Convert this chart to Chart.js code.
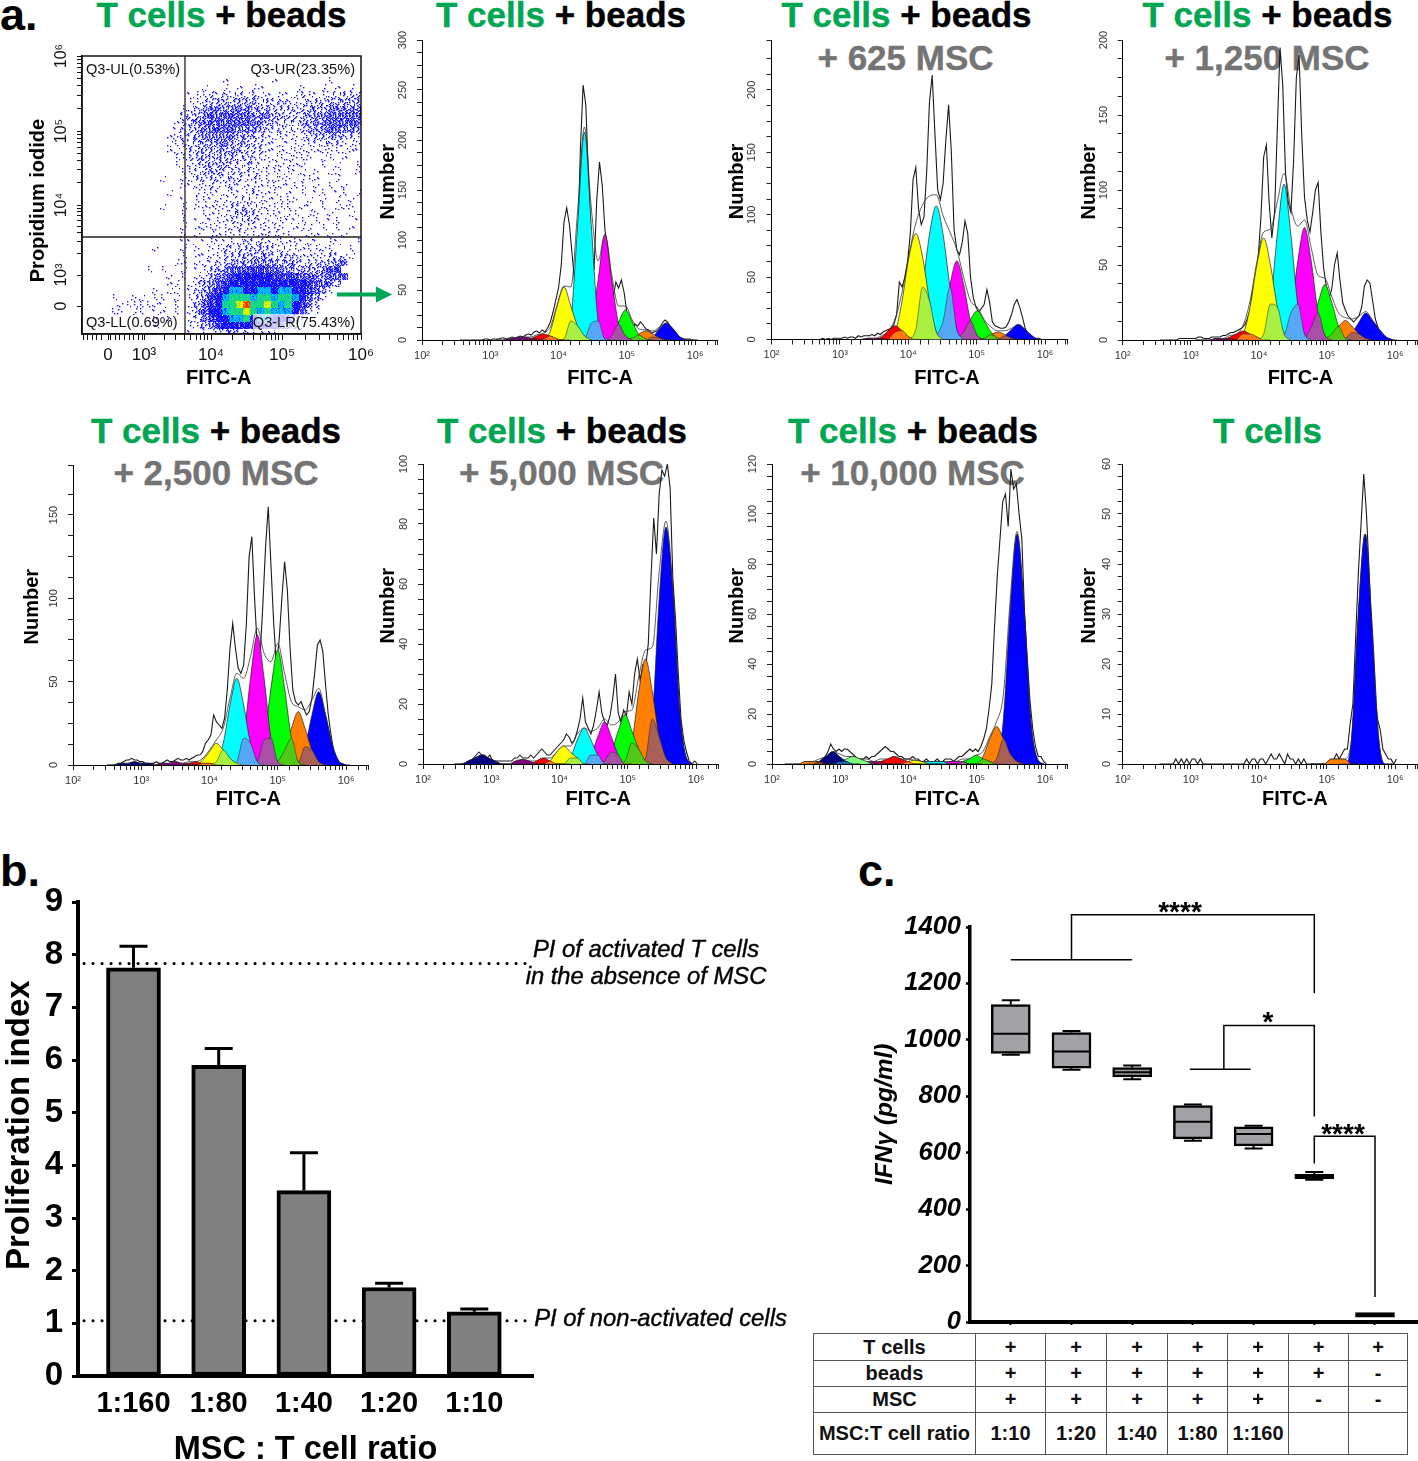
<!DOCTYPE html>
<html><head><meta charset="utf-8">
<script src="https://cdn.jsdelivr.net/npm/chart.js@4/dist/chart.umd.js"></script>
<style>
html,body{margin:0;padding:0;background:#fff;overflow:hidden}
#page{position:relative;width:1418px;height:1461px;overflow:hidden;font-family:"Liberation Sans",Arial,sans-serif}
canvas{position:absolute;z-index:2}
.lbl{position:absolute;white-space:nowrap;transform:translateX(-50%);z-index:1}
.ttl{font-weight:700;font-size:35px;line-height:35px;color:#000;-webkit-text-stroke:.4px currentColor}
.ttl b{color:#00A651}
.msc{color:#747474}
.let{font-weight:700;font-size:45px;line-height:45px;color:#000;transform:none}
.q{font-size:14.6px;line-height:16px;color:#111;z-index:3;transform:none}
.qbg{background:rgba(255,255,255,.72)}
.pi{font-style:italic;font-size:23.8px;line-height:26px;color:#000;-webkit-text-stroke:.4px #000;z-index:3}
.star{font-weight:700;font-size:28px;line-height:28px;color:#000;z-index:3}
table{position:absolute;left:813px;top:1333px;border-collapse:collapse;table-layout:fixed;z-index:3;font-weight:700;font-size:20px;color:#111}
td{border:1.5px solid #555;text-align:center;padding:0;overflow:hidden;white-space:nowrap}
</style></head><body><div id="page"></div>
<script>
// ---------- panel b data ----------
const ratioLabels = ['1:160','1:80','1:40','1:20','1:10'];
const piMeans = [7.75,5.9,3.52,1.68,1.22];
const piErrorTops = [8.16,6.22,4.24,1.76,1.27];
const piReferenceLines = [7.83,1.05];
const piTicks = [0,1,2,3,4,5,6,7,8,9];
// ---------- panel c data ----------
const ifnLow = [947,894,860,642,615,504,17];
const ifnQ1 = [952,900,869,649,624,508,17];
const ifnMedian = [1022,959,885,710,666,516,25];
const ifnQ3 = [1125,1026,902,767,692,523,33];
const ifnHigh = [1140,1031,909,771,696,532,33];
const ifnTicks = [0,200,400,600,800,1000,1200,1400];
const bracketPaths = [
  [[0,1284],[2,1284]],
  [[1,1284],[1,1443],[5,1443],[5,1165]],
  [[2.95,896],[3.95,896]],
  [[3.51,896],[3.51,1051],[5,1051],[5,728]],
  [[5,562],[5,658],[6,658],[6,89]]
];
// ---------- panel a, scatter density (one char per 7-channel cell, top row first) ----------
const dotDensityRows = [
"........................................",
"........................................",
"........................................",
"....................1......1.......1....",
".................1..1.1.11.....1..1.1.1.",
"...............111212221211.111211122222",
"...............1122332333222221122233333",
"..............11234444443332222233344444",
"..............22345555554443322334455555",
".............123445555554433222334455554",
".............122345555444322221233455443",
"............1122344444333211111123333221",
"............1122333443332211111112222111",
"............1112233333322211111111111111",
".............11223332322211111111.11.1..",
".............1.12233322221111111..1.1..1",
"..............112233222211111111.1.11..1",
"...........1..1122222221211111.111..1...",
"..............111121121111111111.1.1.1..",
"............1...111111112111.1.1.11.11.1",
"..............1.111111221111111.1.1.1.1.",
"...........1..1.11111222211111.11.1.111.",
"..............1..11112332111111.11.1..1.",
"..............1.1111122221111111.1.11..1",
"..............1.1111112111111.111.1.1.1.",
"..............1.1.111111112111..11.1.1..",
"..............11.11111122211111111.11..1",
"..........1...1.1.112222232221111111..1.",
"..............1.11112223333222211112211.",
".............11.1112233344443332222344..",
".........1.1..1.112345556655443333456...",
"............1.1.1134567777766665544555..",
"............11.1234567777777777765543...",
"..........1.11.123567cc77cc7cc776531....",
"....1..11.11.1.12467cgggcggcggc7531.....",
".....1111111.1.13567ggyrggygcg7642......",
"....11.11.11.1.13577cggygcgccc7521......",
"..........1.1..124677ccg7cc77642........",
"..........1....11346777777665421........",
"...............1.11233221111............"
];
const dotXDecades = [62,129,200,279];
const dotYDecades = [59,129,203,278];
const dotXZero = 26, dotYZero = 28;
const dotQuadrantX = 103, dotQuadrantY = 97;
const decadeLabels = ['10³','10⁴','10⁵','10⁶'];
// ---------- panel a, histogram raw traces: step 0.04 decades ----------
const rawBeads = [0,0,0,0,0,0,0,0,0,1,
 1,0,1,1,1,2,2,1,2,3,2,3,4,3,5,6,5,8,9,7,10,8,12,18,28,
 40,52,75,118,132,115,85,55,90,190,255,235,160,95,70,140,178,155,110,92,65,42,58,52,60,
 48,28,18,12,16,14,18,15,11,10,7,8,9,12,17,20,18,12,7,4,3,2,1,1,1,
 0,0,0];
const raw625 = [0,0,0,0,0,1,0,1,0,1,
 1,1,1,2,1,2,2,1,3,2,3,3,3,4,3,5,4,6,7,8,9,12,20,46,42,
 50,62,85,128,138,105,92,98,135,190,212,165,120,112,125,160,188,150,88,72,68,78,95,85,50,
 34,26,22,25,28,40,30,14,11,10,9,9,10,14,20,28,32,26,18,9,4,2,1,1,1,
 0,0,0];
const raw1250 = [0,0,0,0,0,0,0,1,1,1,
 1,1,1,1,2,2,1,1,1,2,2,2,2,3,3,4,5,5,6,7,8,10,14,20,33,
 38,55,82,122,130,92,68,85,140,195,170,112,92,85,120,175,190,135,95,80,72,85,100,105,72,
 48,36,28,34,50,58,40,25,20,16,14,12,14,16,22,36,40,38,26,14,8,4,2,1,1,
 0,0,0];
const raw2500 = [0,0,1,1,2,3,3,4,3,3,
 2,2,1,1,1,1,2,1,1,2,3,2,2,3,4,3,3,4,3,4,5,6,6,8,13,
 15,18,30,26,24,22,28,45,70,85,70,58,55,60,85,125,137,100,70,65,95,130,155,120,85,
 60,75,100,122,105,70,45,38,36,38,34,30,32,40,55,72,75,68,48,30,18,8,3,1,1,
 0,0,0];
const raw5000 = [0,0,0,0,1,2,3,4,3,3,
 2,3,1,1,1,1,1,1,1,1,2,2,3,2,2,2,3,2,3,4,5,4,3,3,4,
 5,6,7,8,10,9,7,8,11,15,22,14,12,10,13,18,24,17,14,13,16,22,30,17,14,
 18,16,24,20,30,35,28,33,32,40,62,82,70,90,98,96,100,92,62,48,30,15,8,4,1,
 0,1,0];
const raw10000 = [0,0,0,1,1,2,3,5,8,6,
 5,6,5,6,6,5,4,3,2,2,2,3,2,3,3,4,5,6,7,6,5,5,4,3,3,
 2,2,2,3,2,2,1,1,2,1,1,1,2,1,1,2,2,2,1,2,3,3,4,5,6,
 5,6,5,7,10,14,22,32,55,75,90,105,108,95,118,110,112,100,90,60,42,25,14,7,3,
 3,1,0];
const rawTOnly = [0,0,0,0,0,0,1,0,1,0,
 1,0,1,1,0,1,0,0,0,0,0,0,0,0,0,0,0,0,0,0,0,0,1,0,1,
 1,0,1,1,0,1,2,1,1,2,1,0,2,1,1,0,1,0,1,0,0,0,0,0,0,
 0,0,0,0,1,2,1,2,3,3,8,12,25,38,48,58,50,38,24,14,9,7,3,2,1,
 1,0,1];
// ---------- panel a, fitted generation peaks (nine samples, 0.1 decade apart) ----------
const beadsPurple=[0,0,1,2,3,2,1,0,0], beadsRed=[0,0,1,4,6,4,1,0,0], beadsYellow=[0,1,9,34,53,34,14,4,0], beadsCyan=[0,1,19,115,208,115,19,1,0], beadsMagenta=[0,1,17,60,105,60,16,4,0], beadsGreen=[0,0,5,18,30,18,5,1,0], beadsOrange=[0,0,2,6,9,6,2,0,0], beadsBlue=[0,0,3,11,17,11,3,0,0];
const m625Purple=[0,0,0,1,1,1,0,0,0], m625Red=[0,0,2,7,11,7,2,0,0], m625Yellow=[0,6,31,66,85,66,31,6,0], m625Cyan=[0,8,42,84,107,84,42,8,0], m625Magenta=[0,3,15,44,63,44,15,3,0], m625Green=[0,1,6,16,23,15,6,1,0], m625Orange=[0,0,1,4,6,4,1,0,0], m625Blue=[0,0,3,8,12,8,3,0,0];
const m1250Purple=[0,0,0,1,1,1,0,0,0], m1250Red=[0,0,2,4,6,4,2,0,0], m1250Yellow=[0,4,22,50,68,50,22,4,0], m1250Cyan=[0,4,24,70,104,70,24,4,0], m1250Magenta=[0,3,18,52,75,52,18,3,0], m1250Green=[0,1,9,25,37,25,9,1,0], m1250Orange=[0,1,4,9,13,9,4,1,0], m1250Blue=[0,1,5,12,18,13,7,2,0];
const m2500Navy=[0,0,1,1,2,1,1,0,0], m2500Purple=[0,0,1,1,2,1,1,0,0], m2500Red=[0,0,0,1,2,1,1,0,0], m2500Yellow=[0,0,3,8,13,9,4,1,0], m2500Cyan=[0,2,13,36,52,36,13,2,0], m2500Magenta=[0,2,16,52,78,52,16,2,0], m2500Green=[0,2,15,46,69,46,16,2,0], m2500Orange=[0,2,9,22,32,22,9,2,0], m2500Blue=[0,1,11,30,44,30,12,2,0];
const m5000Navy=[0,0,1,2,3,2,1,0,0], m5000Purple=[0,0,0,1,1.5,1,0,0,0], m5000Red=[0,0,0,1,2,1,0,0,0], m5000Yellow=[0,0,1,4,6,4,2,0,0], m5000Cyan=[0,0,2,8,12,8,3,0,0], m5000Magenta=[0,0,3,9,14,9,3,0,0], m5000Green=[0,1,4,11,16.5,11,5,1,0], m5000Orange=[0,1,7,24,35,24,9,2,0], m5000Blue=[0,2,15,55,79,58,18,2,0];
const m10kOrangeLow=[0,0,0,1,1,1,0,0,0], m10kNavy=[0,0,1,3,5,3,1,0,0], m10kLime=[0,0,1,2,3,2,1,0,0], m10kPurple=[0,0,0,1,1,1,0,0,0], m10kRed=[0,0,1,2,3,2,1,0,0], m10kYellow=[0,0,0,1,1.5,1,0,0,0], m10kCyan=[0,0,0,1,1,1,0,0,0], m10kMagenta=[0,0,0,1,1,1,0,0,0], m10kGreen=[0,0,1,2,3.5,2,1,0,0], m10kOrange=[0,0,3,10,15,10,4,1,0], m10kBlue=[0,2,18,62,92,64,18,2,0];
const tOnlyOrange=[0,0,0,1,1,1,0,0,0], tOnlyBlue=[0,0,5,30,46,28,5,0,0];

const C={navy:'#000080',lime:'#80FF80',purple:'#800080',red:'#FF0000',yellow:'#FFFF00',cyan:'#00FFFF',magenta:'#FF00FF',green:'#00FF00',orange:'#FF8000',blue:'#0000FF'};
const mix={purple_red:'#B00040',red_yellow:'#FF7A10',yellow_cyan:'#A9F040',cyan_magenta:'#55A8F5',magenta_green:'#A84FA8',green_orange:'#50C814',orange_blue:'#A85F55',navy_lime:'#1A6AB0',orangeLow_navy:'#804000'};

const FF='"Liberation Sans",Arial,sans-serif';
const page=document.getElementById('page');
Chart.defaults.font.family=FF;
Chart.defaults.animation=false;
const noPad=s=>{s.paddingLeft=0;s.paddingRight=0;s.paddingTop=0;s.paddingBottom=0;};

function addLabel(cls,text,x,y,html){const d=document.createElement('div');d.className=cls;d.style.left=x+'px';d.style.top=y+'px';if(html)d.innerHTML=text;else d.textContent=text;page.appendChild(d);return d;}
function addCanvas(L,R,T,B,W,H,padT,padR){
  const c=document.createElement('canvas');
  const w=Math.round(W+(R-L)+padR),h=Math.round(padT+(B-T)+H);
  c.width=w;c.height=h;c.style.left=(L-W)+'px';c.style.top=(T-padT)+'px';c.style.width=w+'px';c.style.height=h+'px';
  page.appendChild(c);return c;
}
const baseOpts=(padT,padR)=>({responsive:false,maintainAspectRatio:false,animation:false,events:[],
  layout:{autoPadding:false,padding:{top:padT,right:padR,left:0,bottom:0}},
  plugins:{legend:{display:false},tooltip:{enabled:false},title:{display:false}}});

// ---------- histograms ----------
const SUP={2:'²',3:'³',4:'⁴',5:'⁵',6:'⁶'};
function rawSeries(vals,start){return vals.map((v,i)=>({x:Math.pow(10,start+0.04*i),y:v}));}
function histogram(p){
  const xOf=k=>Math.pow(10,p.offset+0.1*k);
  const ds=[];
  ds.push({data:rawSeries(p.raw,p.rawStart),borderColor:'#1a1a1a',borderWidth:1.1,order:30});
  const sum={};
  p.peaks.forEach(([c,k,v])=>v.forEach((y,i)=>{const q=k-4+i;sum[q]=(sum[q]||0)+y;}));
  const ks=Object.keys(sum).map(Number).sort((a,b)=>a-b);
  ds.push({data:ks.map(k=>({x:xOf(k),y:sum[k]})),borderColor:'#333',borderWidth:0.8,cubicInterpolationMode:'monotone',order:25});
  p.peaks.forEach(([c,k,v])=>ds.push({data:v.map((y,i)=>({x:xOf(k-4+i),y})),fill:'origin',backgroundColor:C[c.replace('Low','')],borderColor:'#222',borderWidth:0.7,cubicInterpolationMode:'monotone',order:20}));
  for(let a=0;a<p.peaks.length-1;a++){
    const [c1,k1,v1]=p.peaks[a],[c2,k2,v2]=p.peaks[a+1],col=mix[c1+'_'+c2];
    if(!col||k2-k1>6)continue;
    const pts=[];
    for(let q=k2-4;q<=k1+4;q++)pts.push({x:xOf(q),y:Math.min(v1[q-k1+4],v2[q-k2+4])});
    ds.push({data:pts,fill:'origin',backgroundColor:col,borderColor:'#222',borderWidth:0.5,cubicInterpolationMode:'monotone',order:10});
  }
  ds.forEach(d=>{d.showLine=true;d.pointRadius=0;});
  const W=p.L-(p.numX-12),H=p.xlabY+12-p.B,padT=16,padR=1;
  const c=addCanvas(p.L,p.R,p.T,p.B,W,H,padT,padR);
  const o=baseOpts(padT,padR);
  o.scales={
    x:{type:'logarithmic',min:100,max:2097152,afterFit:s=>{s.height=H;noPad(s);},
      border:{color:'#000',width:1},
      grid:{drawOnChartArea:false,tickLength:5,tickColor:'#222',tickWidth:1},
      ticks:{autoSkip:false,maxRotation:0,minRotation:0,padding:4,color:'#333',font:{size:11},
        callback:v=>{const e=Math.log10(v);return Math.abs(e-Math.round(e))<1e-6?'10'+SUP[Math.round(e)]:'';}},
      title:{display:true,text:' '.repeat(p.xShift)+'FITC-A',color:'#000',font:{size:20,weight:'700',lineHeight:1.2},padding:0}},
    y:{type:'linear',min:0,max:p.top,afterFit:s=>{s.width=W;noPad(s);},
      border:{color:'#000',width:1},
      grid:{drawOnChartArea:false,tickLength:5,tickColor:'#222',tickWidth:1},
      ticks:{stepSize:p.major/4,autoSkip:false,minRotation:90,maxRotation:90,crossAlign:'center',padding:5,color:'#333',font:{size:11},
        callback:v=>(v%p.major===0?String(v):'')},
      title:{display:true,text:' '.repeat(3)+'Number',color:'#000',font:{size:20,weight:'700',lineHeight:1.2},padding:0}}
  };
  new Chart(c,{type:'scatter',data:{datasets:ds},options:o});
}
const commonPeaks=(names,arrs,ks)=>names.map((n,i)=>[n,ks[i],arrs[i]]);
histogram({L:422,R:717,T:40,B:340,top:300,major:50,numX:388,xlabY:378,xShift:11,offset:-0.02,rawStart:2.56,raw:rawBeads,
 peaks:commonPeaks(['purple','red','yellow','cyan','magenta','green','orange','blue'],[beadsPurple,beadsRed,beadsYellow,beadsCyan,beadsMagenta,beadsGreen,beadsOrange,beadsBlue],[35,38,41,44,47,50,53,56])});
histogram({L:771.5,R:1067,T:39.7,B:339.5,top:240,major:50,numX:737,xlabY:378,xShift:10,offset:0.01,rawStart:2.55,raw:raw625,
 peaks:commonPeaks(['purple','red','yellow','cyan','magenta','green','orange','blue'],[m625Purple,m625Red,m625Yellow,m625Cyan,m625Magenta,m625Green,m625Orange,m625Blue],[35,38,41,44,47,50,53,56])});
histogram({L:1122.7,R:1417,T:40,B:340,top:200,major:50,numX:1089,xlabY:378,xShift:11,offset:-0.03,rawStart:2.55,raw:raw1250,
 peaks:commonPeaks(['purple','red','yellow','cyan','magenta','green','orange','blue'],[m1250Purple,m1250Red,m1250Yellow,m1250Cyan,m1250Magenta,m1250Green,m1250Orange,m1250Blue],[35,38,41,44,47,50,53,56])});
histogram({L:73,R:368,T:465,B:765,top:180,major:50,numX:32,xlabY:799,xShift:10,offset:0,rawStart:2.58,raw:raw2500,
 peaks:commonPeaks(['navy','purple','red','yellow','cyan','magenta','green','orange','blue'],[m2500Navy,m2500Purple,m2500Red,m2500Yellow,m2500Cyan,m2500Magenta,m2500Green,m2500Orange,m2500Blue],[29,35,38,41,44,47,50,53,56])});
histogram({L:423,R:717.6,T:464,B:764,top:100,major:20,numX:388,xlabY:799,xShift:10,offset:-0.04,rawStart:2.54,raw:raw5000,
 peaks:commonPeaks(['navy','purple','red','yellow','cyan','magenta','green','orange','blue'],[m5000Navy,m5000Purple,m5000Red,m5000Yellow,m5000Cyan,m5000Magenta,m5000Green,m5000Orange,m5000Blue],[29,35,38,41,44,47,50,53,56])});
histogram({L:772,R:1067,T:464,B:764,top:120,major:20,numX:737,xlabY:799,xShift:10,offset:-0.01,rawStart:2.54,raw:raw10000,
 peaks:commonPeaks(['orangeLow','navy','lime','purple','red','yellow','cyan','magenta','green','orange','blue'],[m10kOrangeLow,m10kNavy,m10kLime,m10kPurple,m10kRed,m10kYellow,m10kCyan,m10kMagenta,m10kGreen,m10kOrange,m10kBlue],[26,29,32,35,38,41,44,47,50,53,56])});
histogram({L:1122.7,R:1417,T:464,B:764,top:60,major:10,numX:1089,xlabY:799,xShift:9,offset:-0.04,rawStart:2.54,raw:rawTOnly,
 peaks:commonPeaks(['orange','blue'],[tOnlyOrange,tOnlyBlue],[52,56])});

// ---------- dot plot ----------
const fillOrder=[24,3,41,17,30,9,46,13,36,0,27,20,5,44,32,11,38,22,48,7,15,34,1,42,26,18,29,6,47,12,39,23,2,33,45,10,19,37,28,4,43,14,25,8,35,21,40,16,31];
function dither(level,variant){
  const cv=document.createElement('canvas');cv.width=7;cv.height=7;const g=cv.getContext('2d');
  const dense={c:['#0040ff','#00c8ff',26],g:['#00a8e8','#20e070',30],y:['#40e040','#f0f000',30],r:['#f0e000','#ff2000',24]}[level];
  let col='#1010ff',n=[0,3,6,10,15,21,29,40][+level]||0;
  if(dense){g.fillStyle=dense[0];g.fillRect(0,0,7,7);col=dense[1];n=dense[2];}
  g.fillStyle=col;
  for(let i=0;i<n;i++){const pos=fillOrder[(i+variant*6)%49];g.fillRect(pos%7,Math.floor(pos/7),1.4,1.4);}
  return cv;
}
(function(){
  const L=82,R=361,T=56,B=334,W=82-26,H=56,padT=22,padR=22;
  const patterns={};
  const pts=[],styles=[];
  dotDensityRows.forEach((row,r)=>{[...row].forEach((ch,cIdx)=>{
    if(ch==='.'||ch===' ')return;
    const v=fillOrder[(r*r*3+cIdx*cIdx*5+r*cIdx)%49]%8,key=ch+v;
    patterns[key]=patterns[key]||dither(ch,v);
    pts.push({x:cIdx*7+3.5,y:278-(r*7+3.5)});styles.push(patterns[key]);
  });});
  const c=addCanvas(L,R,T,B,W,H,padT,padR);
  const minorMult=[2,3,4,5,6,7,8,9];
  const xt=[dotXZero,...dotXDecades],yt=[dotYZero,...dotYDecades];
  const xMap=new Map([[dotXZero,'0'],...dotXDecades.map((v,i)=>[v,decadeLabels[i]])]);
  const yMap=new Map([[dotYZero,'0'],...dotYDecades.map((v,i)=>[v,decadeLabels[i]])]);
  const decadeMinors=a=>{const r=[];for(let i=0;i<a.length-1;i++)minorMult.forEach(m=>r.push(a[i]+(a[i+1]-a[i])*Math.log10(m)));return r;};
  const xLin=[];for(let v=1;v<62;v+=4.6){if(Math.abs(v-dotXZero)>2)xLin.push(v);}
  const xTicks=[...xt,...decadeMinors(dotXDecades),...xLin];
  const yTicks=[...yt,...decadeMinors(dotYDecades)];
  const o=baseOpts(padT,padR);
  o.scales={
    x:{type:'linear',min:0,max:279,afterFit:s=>{s.height=H;noPad(s);},afterBuildTicks:s=>{s.ticks=xTicks.slice().sort((a,b)=>a-b).map(v=>({value:v}));},
      border:{color:'#111',width:1.5},grid:{drawOnChartArea:false,tickLength:6,tickColor:'#111'},
      ticks:{autoSkip:false,maxRotation:0,padding:5,color:'#111',font:{size:17},callback:v=>xMap.get(v)||''},
      title:{display:true,text:'FITC-A ',color:'#000',font:{size:20,weight:'700',lineHeight:1.2},padding:0}},
    y:{type:'linear',min:0,max:278,afterFit:s=>{s.width=W;noPad(s);},afterBuildTicks:s=>{s.ticks=yTicks.slice().sort((a,b)=>a-b).map(v=>({value:v}));},
      border:{color:'#111',width:1.5},grid:{drawOnChartArea:false,tickLength:5,tickColor:'#111'},
      ticks:{autoSkip:false,minRotation:90,maxRotation:90,crossAlign:'center',padding:3,color:'#111',font:{size:16},callback:v=>yMap.get(v)||''},
      title:{display:true,text:'Propidium iodide  ',color:'#000',font:{size:20,weight:'700',lineHeight:1.2},padding:0}}
  };
  const frame={id:'frame',afterDraw(ch){const a=ch.chartArea,g=ch.ctx;g.save();g.strokeStyle='#111';g.lineWidth=1.5;g.strokeRect(a.left,a.top,a.right-a.left,a.bottom-a.top);g.restore();}};
  new Chart(c,{type:'scatter',plugins:[frame],data:{datasets:[
    {data:[{x:dotQuadrantX,y:0},{x:dotQuadrantX,y:278}],showLine:true,borderColor:'#222',borderWidth:1.3,pointRadius:0,order:1},
    {data:[{x:0,y:dotQuadrantY},{x:279,y:dotQuadrantY}],showLine:true,borderColor:'#222',borderWidth:1.3,pointRadius:0,order:1},
    {data:pts,pointRadius:4,pointStyle:ctx=>(ctx.dataIndex==null||!styles[ctx.dataIndex])?'circle':styles[ctx.dataIndex],order:5}
  ]},options:o});
})();

// ---------- panel b ----------
(function(){
  const L=78,R=533,T=902,B=1376,W=78,H=94,padT=14,padR=2;
  const c=addCanvas(L,R,T,B,W,H,padT,padR);
  const pxPerCat=85.2,x0=(133.5-L)/pxPerCat;
  const o=baseOpts(padT,padR);
  o.scales={
    x:{type:'linear',offset:false,min:-x0,max:(R-133.5)/pxPerCat,afterFit:s=>{s.height=H;noPad(s);},afterBuildTicks:s=>{s.ticks=ratioLabels.map((_,i)=>({value:i}));},
      border:{color:'#000',width:4},grid:{display:false,offset:false},
      ticks:{autoSkip:false,maxRotation:0,padding:3,color:'#000',font:{size:29,weight:'700'},callback:v=>ratioLabels[v]},
      title:{display:true,text:'MSC : T cell ratio',color:'#000',font:{size:32.5,weight:'700',lineHeight:1.2},padding:0}},
    y:{type:'linear',min:0,max:9,afterFit:s=>{s.width=W;noPad(s);},afterBuildTicks:s=>{s.ticks=piTicks.map(v=>({value:v}));},
      border:{color:'#000',width:4},grid:{drawOnChartArea:false,tickLength:6,tickWidth:3,tickColor:'#000'},
      ticks:{autoSkip:false,padding:9,color:'#000',font:{size:33,weight:'700'},callback:v=>String(v)},
      title:{display:true,text:'   Proliferation index',color:'#000',font:{size:33,weight:'700',lineHeight:1.2},padding:0}}
  };
  const marks={id:'piMarks',
    beforeDatasetsDraw(ch){const g=ch.ctx,y=ch.scales.y;g.save();g.strokeStyle='#000';g.lineWidth=3;g.lineCap='round';g.setLineDash([0.1,8.9]);
      piReferenceLines.forEach(v=>{const p=y.getPixelForValue(v);g.beginPath();g.moveTo(84,p);g.lineTo(527,p);g.stroke();});g.restore();},
    afterDatasetsDraw(ch){const g=ch.ctx,x=ch.scales.x,y=ch.scales.y;g.save();g.strokeStyle='#000';g.lineWidth=3;
      piErrorTops.forEach((v,i)=>{const px=x.getPixelForValue(i),t=y.getPixelForValue(v),b=y.getPixelForValue(piMeans[i]);g.beginPath();g.moveTo(px,b);g.lineTo(px,t);g.moveTo(px-14,t);g.lineTo(px+14,t);g.stroke();});g.restore();}};
  new Chart(c,{type:'bar',plugins:[marks],data:{datasets:[{data:piMeans.map((v,i)=>({x:i,y:v})),backgroundColor:'#808080',borderColor:'#000',borderWidth:4,borderSkipped:false,barThickness:54}]},options:o});
})();

// ---------- panel c ----------
(function(){
  const L=970,R=1417,T=927,B=1322,W=99,H=8,padT=30,padR=1;
  const c=addCanvas(L,R,T,B,W,H,padT,padR);
  const pxPerCat=60.7,x0=(1010.8-L)/pxPerCat;
  const o=baseOpts(padT,padR);
  o.scales={
    x:{type:'linear',offset:false,min:-x0,max:(R-1010.8)/pxPerCat,afterFit:s=>{s.height=H;noPad(s);},afterBuildTicks:s=>{s.ticks=ifnLow.map((_,i)=>({value:i}));},
      border:{color:'#000',width:4},grid:{drawOnChartArea:false,offset:false,tickLength:3,tickWidth:2,tickColor:'#000'},
      ticks:{autoSkip:false,display:false}},
    y:{type:'linear',min:0,max:1400,afterFit:s=>{s.width=W;noPad(s);},afterBuildTicks:s=>{s.ticks=ifnTicks.map(v=>({value:v}));},
      border:{color:'#000',width:3.5},grid:{drawOnChartArea:false,tickLength:4,tickWidth:2.5,tickColor:'#000'},
      ticks:{autoSkip:false,padding:5,color:'#000',font:{size:25.5,weight:'700',style:'italic'},callback:v=>String(v)},
      title:{display:true,text:'   IFNγ (pg/ml)',color:'#000',font:{size:24.5,weight:'700',style:'italic',lineHeight:1.2},padding:0}}
  };
  const marks={id:'boxMarks',afterDatasetsDraw(ch){const g=ch.ctx,x=ch.scales.x,y=ch.scales.y;g.save();g.strokeStyle='#000';
    ifnLow.forEach((v,i)=>{const px=x.getPixelForValue(i),half=19;
      g.lineWidth=2;g.beginPath();
      const cap=9;
      g.moveTo(px,y.getPixelForValue(ifnHigh[i]));g.lineTo(px,y.getPixelForValue(ifnQ3[i]));
      if(i<6){g.moveTo(px-cap,y.getPixelForValue(ifnHigh[i]));g.lineTo(px+cap,y.getPixelForValue(ifnHigh[i]));}
      g.moveTo(px,y.getPixelForValue(v));g.lineTo(px,y.getPixelForValue(ifnQ1[i]));
      if(i<6){g.moveTo(px-cap,y.getPixelForValue(v));g.lineTo(px+cap,y.getPixelForValue(v));}
      g.moveTo(px-half,y.getPixelForValue(ifnMedian[i]));g.lineTo(px+half,y.getPixelForValue(ifnMedian[i]));g.stroke();
    });
    g.lineWidth=1.5;
    bracketPaths.forEach(path=>{g.beginPath();path.forEach(([a,b],j)=>{const X=x.getPixelForValue(a),Y=y.getPixelForValue(b);j?g.lineTo(X,Y):g.moveTo(X,Y);});g.stroke();});
    g.restore();}};
  new Chart(c,{type:'bar',plugins:[marks],data:{datasets:[{data:ifnQ1.map((v,i)=>({x:i,y:[v,ifnQ3[i]]})),backgroundColor:(ctx)=>ctx.dataIndex===6?'#000':'#A2A2A6',borderColor:'#000',borderWidth:2.5,borderSkipped:false,barThickness:39}]},options:o});
})();

// ---------- text and overlays ----------
[['<b>T cells</b> + beads',221.5,-3],['<b>T cells</b> + beads',561,-3],['<b>T cells</b> + beads',906.5,-3],['<b>T cells</b> + beads',1267.5,-3],
 ['<b>T cells</b> + beads',216,413],['<b>T cells</b> + beads',562,413],['<b>T cells</b> + beads',913,413],['<b>T cells</b>',1267.5,413]
].forEach(([t,x,y])=>addLabel('lbl ttl',t,x,y,true));
[['+ 625 MSC',905.5,40],['+ 1,250 MSC',1267,40],['+ 2,500 MSC',216,455],['+ 5,000 MSC',561.5,455],['+ 10,000 MSC',912.5,455]
].forEach(([t,x,y])=>addLabel('lbl ttl msc',t,x,y));
[['a.',0,-8],['b.',0,848],['c.',858,848]].forEach(([t,x,y])=>addLabel('lbl let',t,x,y));
addLabel('lbl q','Q3-UL(0.53%)',86,61);
addLabel('lbl q','Q3-LL(0.69%)',86,314);
const ur=addLabel('lbl q','Q3-UR(23.35%)',0,61);ur.style.left='auto';ur.style.right=(1418-355)+'px';
const lr=addLabel('lbl q qbg','Q3-LR(75.43%)',0,314);lr.style.left='auto';lr.style.right=(1418-355)+'px';
addLabel('lbl pi','PI of activated T cells',646,936);
addLabel('lbl pi','in the absence of MSC',646,963);
addLabel('lbl pi','PI of non-activated cells',660.5,1305);
addLabel('lbl star','****',1180,898);
addLabel('lbl star','*',1268,1008);
addLabel('lbl star','****',1343,1120);
const svgNS='http://www.w3.org/2000/svg';
const arrow=document.createElementNS(svgNS,'svg');
arrow.setAttribute('width','60');arrow.setAttribute('height','20');
arrow.setAttribute('style','position:absolute;left:336px;top:285px;z-index:3');
arrow.innerHTML='<polygon points="1,7.5 40,7.5 40,1.5 56,9.5 40,17.5 40,11.5 1,11.5" fill="#00A651"/>';
page.appendChild(arrow);

// ---------- condition table ----------
const tableRows=[
 ['T cells','+','+','+','+','+','+','+'],
 ['beads','+','+','+','+','+','+','-'],
 ['MSC','+','+','+','+','+','-','-'],
 ['MSC:T cell ratio','1:10','1:20','1:40','1:80','1:160','','']];
const tbl=document.createElement('table');
const colW=[162,70,61,61,60,61,60,59],rowH=[27,26,26,42];
tbl.style.width=colW.reduce((a,b)=>a+b,0)+'px';
const cg=document.createElement('colgroup');colW.forEach(w=>{const col=document.createElement('col');col.style.width=w+'px';cg.appendChild(col);});tbl.appendChild(cg);
tableRows.forEach((r,i)=>{const tr=document.createElement('tr');tr.style.height=rowH[i]+'px';r.forEach(t=>{const td=document.createElement('td');td.textContent=t;tr.appendChild(td);});tbl.appendChild(tr);});
page.appendChild(tbl);
</script></body></html>
